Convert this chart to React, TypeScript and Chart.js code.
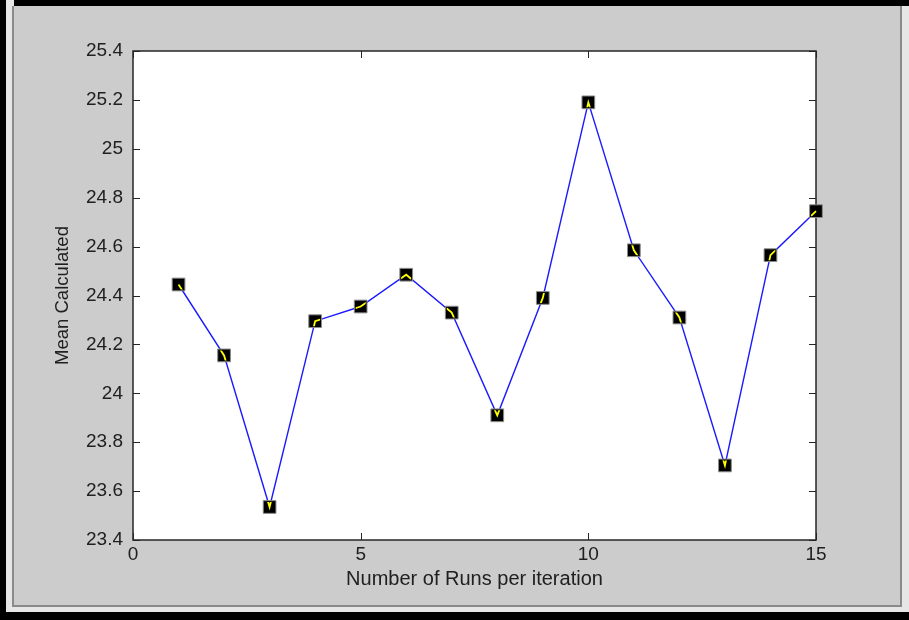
import React, { useEffect, useRef } from "react";
import { Chart, registerables } from "chart.js";

Chart.register(...registerables);

const runs = [1, 2, 3, 4, 5, 6, 7, 8, 9, 10, 11, 12, 13, 14, 15];
const meanValues = [24.445, 24.155, 23.535, 24.295, 24.355, 24.485, 24.33, 23.91, 24.39, 25.19, 24.585, 24.31, 23.705, 24.565, 24.745];
const xTickValues = [0, 5, 10, 15];
const yTickValues = [23.4, 23.6, 23.8, 24, 24.2, 24.4, 24.6, 24.8, 25, 25.2, 25.4];

const FONT = '"Liberation Sans", Arial, sans-serif';
const TEXT = "#202020";

const axesBox = {
  id: "axesBox",
  beforeDraw(chart: any) {
    const { ctx, chartArea } = chart;
    ctx.save();
    ctx.fillStyle = "#ffffff";
    ctx.fillRect(chartArea.left, chartArea.top, chartArea.right - chartArea.left, chartArea.bottom - chartArea.top);
    ctx.restore();
  },
  beforeDatasetsDraw(chart: any) {
    const { ctx, chartArea, scales } = chart;
    const { left, right, top, bottom } = chartArea;
    const x = scales.x;
    const y = scales.y;
    ctx.save();
    ctx.strokeStyle = "#262626";
    ctx.lineWidth = 1.5;
    ctx.strokeRect(left, top, right - left, bottom - top);
    ctx.lineWidth = 1;
    const L = 7;
    ctx.beginPath();
    for (const t of x.ticks) {
      const px = Math.round(x.getPixelForValue(t.value)) + 0.5;
      ctx.moveTo(px, bottom);
      ctx.lineTo(px, bottom - L);
      ctx.moveTo(px, top);
      ctx.lineTo(px, top + L);
    }
    for (const t of y.ticks) {
      const py = Math.round(y.getPixelForValue(t.value)) + 0.5;
      ctx.moveTo(left, py);
      ctx.lineTo(left + L, py);
      ctx.moveTo(right, py);
      ctx.lineTo(right - L, py);
    }
    ctx.stroke();
    ctx.restore();
  },
  afterDatasetsDraw(chart: any) {
    const { ctx } = chart;
    const meta = chart.getDatasetMeta(0);
    const pts = meta.data;
    if (!pts || !pts.length) return;
    ctx.save();
    ctx.beginPath();
    const h = 5;
    for (const p of pts) {
      ctx.rect(p.x - h, p.y - h, 2 * h, 2 * h);
    }
    ctx.clip();
    ctx.strokeStyle = "#ffff00";
    ctx.lineWidth = 1.8;
    ctx.beginPath();
    pts.forEach((p: any, i: number) => {
      if (i === 0) ctx.moveTo(p.x, p.y);
      else ctx.lineTo(p.x, p.y);
    });
    ctx.stroke();
    ctx.restore();
  },
};

export default function App() {
  const ref = useRef<HTMLCanvasElement | null>(null);

  useEffect(() => {
    document.body.style.margin = "0";
    const canvas = ref.current;
    if (!canvas) return;
    const chart = new Chart(canvas, {
      type: "line",
      data: {
        labels: runs,
        datasets: [
          {
            data: runs.map((r, i) => ({ x: r, y: meanValues[i] })),
            borderColor: "#1a1aff",
            borderWidth: 1.4,
            tension: 0,
            fill: false,
            pointStyle: "rect",
            pointRadius: 9,
            pointBackgroundColor: "#000000",
            pointBorderColor: "#8c8c8c",
            pointBorderWidth: 1,
            clip: false as any,
          },
        ],
      },
      options: {
        animation: false,
        responsive: false,
        events: [],
        layout: { padding: { left: 0, top: 51, right: 93, bottom: 0 } },
        plugins: {
          legend: { display: false },
          tooltip: { enabled: false },
        },
        scales: {
          x: {
            type: "linear",
            min: 0,
            max: 15,
            grid: { display: false, drawTicks: false },
            border: { display: false },
            afterBuildTicks: (scale: any) => {
              scale.ticks = xTickValues.map((v) => ({ value: v }));
            },
            afterFit: (scale: any) => {
              scale.height = 80;
              scale.paddingLeft = 0;
              scale.paddingRight = 0;
            },
            ticks: {
              color: TEXT,
              font: { family: FONT, size: 19 },
              padding: 3,
              maxRotation: 0,
              callback: (v: any) => String(v),
            },
            title: {
              display: true,
              text: "Number of Runs per iteration",
              color: TEXT,
              font: { family: FONT, size: 20 },
              padding: { top: 0, bottom: 29 },
            },
          },
          y: {
            type: "linear",
            min: 23.4,
            max: 25.4,
            grid: { display: false, drawTicks: false },
            border: { display: false },
            afterBuildTicks: (scale: any) => {
              scale.ticks = yTickValues.map((v) => ({ value: v }));
            },
            afterFit: (scale: any) => {
              scale.width = 133;
              scale.paddingTop = 0;
              scale.paddingBottom = 0;
            },
            ticks: {
              color: TEXT,
              font: { family: FONT, size: 19 },
              padding: 10,
              callback: (v: any) => String(Number(Number(v).toFixed(1))),
            },
            title: {
              display: true,
              text: "Mean Calculated",
              color: TEXT,
              font: { family: FONT, size: 18.5 },
              padding: { top: 52, bottom: 0 },
            },
          },
        },
      },
      plugins: [axesBox],
    });
    return () => chart.destroy();
  }, []);

  return (
    <div style={{ position: "fixed", left: 0, top: 0, width: 909, height: 620, background: "#000", overflow: "hidden" }}>
      <div style={{ position: "absolute", left: 6, top: 0, width: 903, height: 612, background: "#e6e6e6" }} />
      <div style={{ position: "absolute", left: 14, top: 0, width: 895, height: 6, background: "#000" }} />
      <div
        style={{
          position: "absolute",
          left: 12,
          top: 6,
          width: 886,
          height: 599,
          background: "#cccccc",
          borderLeft: "2px solid #8a8a8a",
          borderRight: "2px solid #8a8a8a",
          borderBottom: "2px solid #8a8a8a",
        }}
      />
      <canvas ref={ref} width={909} height={620} style={{ position: "absolute", left: 0, top: 0 }} />
    </div>
  );
}
